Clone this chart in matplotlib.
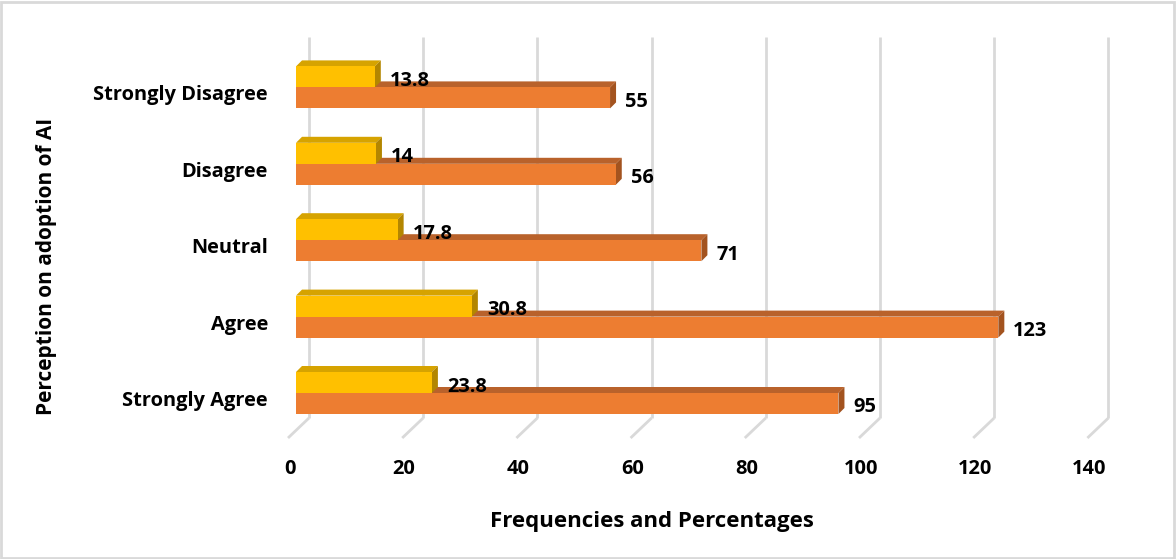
import numpy as np
import matplotlib
matplotlib.use("Agg")
import matplotlib.pyplot as plt
from matplotlib.patches import Polygon, Rectangle

# survey responses, listed bottom to top as the chart stacks them
categories = ["Strongly Agree", "Agree", "Neutral", "Disagree", "Strongly Disagree"]
frequencies = [95, 123, 71, 56, 55]
percentages = [23.8, 30.8, 17.8, 14, 13.8]
xticks = [0, 20, 40, 60, 80, 100, 120, 140]

plt.rcParams['font.family'] = ['Open Sans', 'DejaVu Sans']
plt.rcParams['font.weight'] = 'bold'

W, H = 1176, 559
fig = plt.figure(figsize=(W / 100, H / 100), dpi=100)
ax = fig.add_axes([0, 0, 1, 1])

# pixel layout of the fake 3d box
px_per_x = 5.71       # pixels per value unit
x0_px = 296           # where value 0 sits on the bar fronts
px_per_cat = 76.4     # pixels between categories
y0_px = 393           # seam between the two bars of the first category
ax.set_xlim(-x0_px / px_per_x, (W - x0_px) / px_per_x)
ax.set_ylim((y0_px - H) / px_per_cat, y0_px / px_per_cat)
ax.axis("off")

def px(dx):
    return dx / px_per_x

def py(dy):
    return dy / px_per_cat

bar_h = py(21)
dep_x, dep_y = px(6), py(6)
fs = 14.4

# back wall gridlines and the floor edges
back_dx, front_dx = px(13), px(-8)
floor_back, floor_front = py(-25), py(-45)
wall_top = py(y0_px - 37)
grid_c = "#d9d9d9"
for t in xticks:
    ax.plot([t + back_dx, t + back_dx], [floor_back, wall_top], color=grid_c, lw=2, zorder=0,
            solid_capstyle="butt")
    ax.plot([t + back_dx, t + front_dx], [floor_back, floor_front], color=grid_c, lw=2, zorder=0,
            solid_capstyle="butt")
    ax.text(t + px(-6), py(-76), str(t), ha="center", va="center", fontsize=fs, fontweight="bold")

y = np.arange(len(categories))


def bar3d(ys, vals, height, front, top, side, z):
    bars = ax.barh(ys, vals, height=height, align="edge", color=front, zorder=z + 1, lw=0)
    for yy, v in zip(ys, vals):
        lo, hi = min(yy, yy + height), max(yy, yy + height)
        ax.add_patch(Polygon([(0, hi), (v, hi), (v + dep_x, hi + dep_y), (dep_x, hi + dep_y)],
                             closed=True, fc=top, ec="none", zorder=z))
        ax.add_patch(Polygon([(v, lo), (v, hi), (v + dep_x, hi + dep_y), (v + dep_x, lo + dep_y)],
                             closed=True, fc=side, ec="none", zorder=z))
    return bars


# orange (frequency) below the seam, yellow (percentage) above it
bar3d(y, frequencies, -bar_h, "#ed7d31", "#b9622b", "#a3531f", 1)
bar3d(y, percentages, bar_h, "#ffc000", "#d6a300", "#b38600", 3)

for yy, v in zip(y, frequencies):
    ax.text(v + px(15), yy - bar_h / 2 - py(4), f"{v:g}", ha="left", va="center",
            fontsize=fs, fontweight="bold", zorder=6)
for yy, v in zip(y, percentages):
    ax.text(v + px(15), yy + bar_h / 2 - py(4), f"{v:g}", ha="left", va="center",
            fontsize=fs, fontweight="bold", zorder=6)

for yy, c in zip(y, categories):
    ax.text(px(-28), yy - py(8), c, ha="right", va="center", fontsize=fs, fontweight="bold")

ax.text(px(652 - x0_px), py(y0_px - 521), "Frequencies and Percentages", ha="center", va="center",
        fontsize=16, fontweight="bold")
ax.text(px(47 - x0_px), py(y0_px - 266), "Perception on adoption of AI", ha="center", va="center",
        rotation=90, fontsize=15, fontweight="bold")

# chart border
fig.patches.append(Rectangle((0.001, 0.001), 0.997, 0.996, transform=fig.transFigure,
                             fill=False, ec="#d9d9d9", lw=2))

fig.savefig("out.png", dpi=100, facecolor="white")
